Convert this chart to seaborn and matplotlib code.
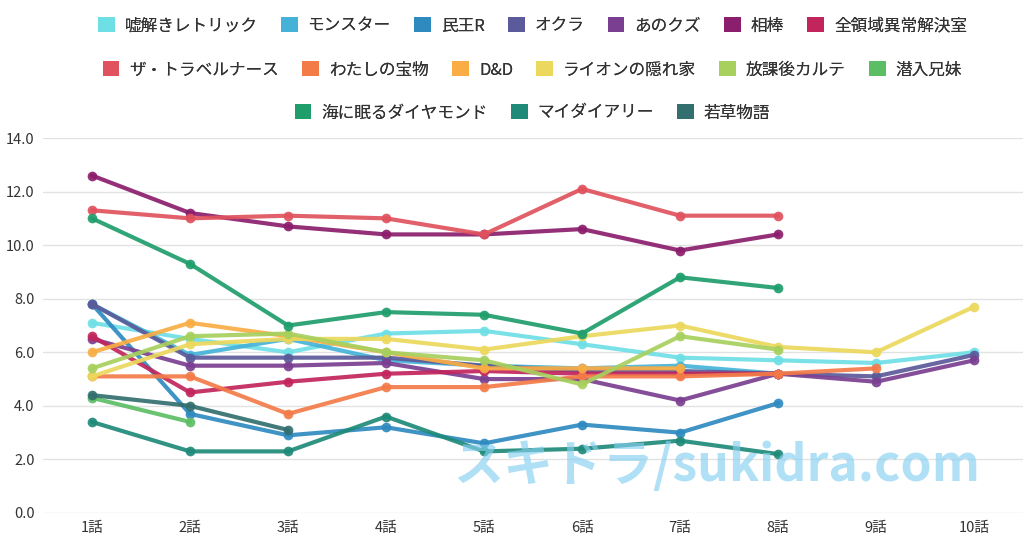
import pandas as pd
import matplotlib.pyplot as plt
import seaborn as sns
from matplotlib.patches import Patch

# episode labels (x axis)
episodes = ['1話', '2話', '3話', '4話', '5話', '6話', '7話', '8話', '9話', '10話']

# drama names, in legend order
dramas = ['嘘解きレトリック', 'モンスター', '民王R', 'オクラ', 'あのクズ', '相棒',
          '全領域異常解決室', 'ザ・トラベルナース', 'わたしの宝物', 'D&D',
          'ライオンの隠れ家', '放課後カルテ', '潜入兄妹', '海に眠るダイヤモンド',
          'マイダイアリー', '若草物語']

colors = ['#6fdfe6', '#45b3d8', '#2f8ac0', '#5b5a9a', '#7b3f91', '#8b1e6d',
          '#c2255c', '#e0525d', '#f37b48', '#f9ad44', '#ecd85c', '#a7d05e',
          '#5cbe64', '#1f9e6c', '#1f8a78', '#336f6f']

# ratings per episode (%)
usotoki = [7.1, 6.5, 6.0, 6.7, 6.8, 6.3, 5.8, 5.7, 5.6, 6.0]
monster = [7.8, 5.9, 6.5, 5.7, 5.5, 5.4, 5.5, 5.2]
minnou = [7.8, 3.7, 2.9, 3.2, 2.6, 3.3, 3.0, 4.1]
okura = [7.8, 5.8, 5.8, 5.8, 5.5, 5.3, 5.3, 5.2, 5.1, 5.9]
anokuzu = [6.5, 5.5, 5.5, 5.6, 5.0, 5.0, 4.2, 5.2, 4.9, 5.7]
aibou = [12.6, 11.2, 10.7, 10.4, 10.4, 10.6, 9.8, 10.4]
zenryoiki = [6.6, 4.5, 4.9, 5.2, 5.3, 5.2, 5.2, 5.2]
travelnurse = [11.3, 11.0, 11.1, 11.0, 10.4, 12.1, 11.1, 11.1]
takaramono = [5.1, 5.1, 3.7, 4.7, 4.7, 5.1, 5.1, 5.2, 5.4]
dnd = [6.0, 7.1, 6.6, 6.0, 5.4, 5.4, 5.4]
lion = [5.1, 6.3, 6.5, 6.5, 6.1, 6.6, 7.0, 6.2, 6.0, 7.7]
houkago = [5.4, 6.6, 6.7, 6.0, 5.7, 4.8, 6.6, 6.1]
sennyu = [4.3, 3.4]
diamond = [11.0, 9.3, 7.0, 7.5, 7.4, 6.7, 8.8, 8.4]
mydiary = [3.4, 2.3, 2.3, 3.6, 2.3, 2.4, 2.7, 2.2]
wakakusa = [4.4, 4.0, 3.1]

ratings = [usotoki, monster, minnou, okura, anokuzu, aibou, zenryoiki, travelnurse,
           takaramono, dnd, lion, houkago, sennyu, diamond, mydiary, wakakusa]

rows = []
for name, vals in zip(dramas, ratings):
    for i, v in enumerate(vals):
        rows.append({'drama': name, 'ep': i, 'rating': v})
df = pd.DataFrame(rows)

sns.set_style('white')
plt.rcParams['font.family'] = ['Noto Sans CJK JP', 'DejaVu Sans']

fig = plt.figure(figsize=(10.24, 5.38), dpi=100)
ax = fig.add_axes([43 / 1024, 25 / 538, 980 / 1024, 375 / 538])

sns.lineplot(data=df, x='ep', y='rating', hue='drama', hue_order=dramas,
             palette=dict(zip(dramas, colors)), marker='o', markersize=7,
             markeredgewidth=0, linewidth=3, alpha=0.92, errorbar=None,
             legend=False, ax=ax)

ax.set_xlim(-0.5, len(episodes) - 0.5)
ax.set_ylim(0, 14)
ax.set_xticks(range(len(episodes)), episodes)
yt = list(range(0, 15, 2))
ax.set_yticks(yt, [f'{v:.1f}' for v in yt])
ax.set_xlabel('')
ax.set_ylabel('')
ax.grid(axis='y', color='#e2e2e2', linewidth=1)
ax.set_axisbelow(True)
for s in ax.spines.values():
    s.set_visible(False)
ax.tick_params(axis='both', length=0, labelsize=10.5, colors='#333333')
ax.tick_params(axis='y', pad=6)
ax.tick_params(axis='x', pad=6)

# legend: three centred rows
handles = [Patch(facecolor=c, edgecolor='none') for c in colors]
row_slices = [(0, 7), (7, 13), (13, 16)]
row_y = [1 - 26 / 538, 1 - 70 / 538, 1 - 113 / 538]
for (a, b), y in zip(row_slices, row_y):
    leg = fig.legend(handles[a:b], dramas[a:b], loc='center', ncol=b - a,
                     bbox_to_anchor=(0.52, y), frameon=False, fontsize=12,
                     handlelength=1.0, handleheight=1.0, handletextpad=0.6,
                     columnspacing=1.4, labelcolor='#333333')
    fig.add_artist(leg)

# watermark
fig.text(0.70, 0.132, 'スキドラ/sukidra.com', fontsize=36, fontweight='bold',
         color='#86d0f2', alpha=0.65, ha='center', va='center', zorder=10)

fig.savefig('out.png', dpi=100)
